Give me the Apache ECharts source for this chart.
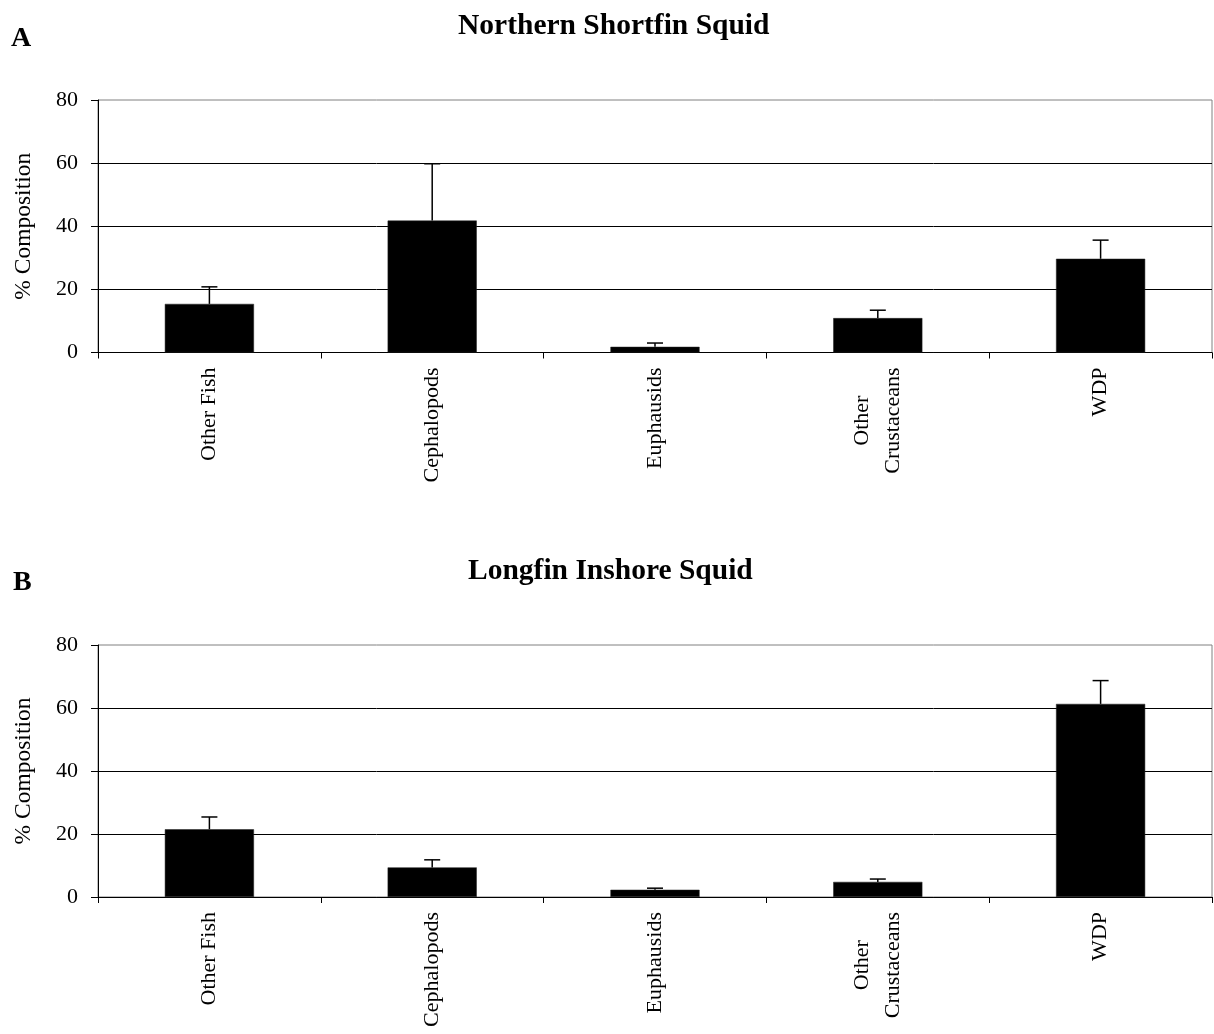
<!DOCTYPE html>
<html>
<head>
<meta charset="utf-8">
<title>Diet composition of squid</title>
<script src="https://cdn.jsdelivr.net/npm/echarts@6/dist/echarts.min.js"></script>
<style>
  html, body { margin: 0; padding: 0; background: #fff; }
  #chart { width: 1214px; height: 1034px; }
</style>
</head>
<body>
<div id="chart"></div>
<script>
// Prey categories shared by both panels
const categories = ['Other Fish', 'Cephalopods', 'Euphausids', 'Other\nCrustaceans', 'WDP'];

// Panel A: Northern Shortfin Squid — mean % composition and standard error
const shortfinMeans = [15.4, 41.8, 1.8, 10.9, 29.7];
const shortfinErrors = [5.4, 18.0, 1.2, 2.5, 5.9];

// Panel B: Longfin Inshore Squid — mean % composition and standard error
const longfinMeans = [21.5, 9.4, 2.3, 4.8, 61.3];
const longfinErrors = [3.9, 2.4, 0.5, 0.9, 7.4];

// Value axis ticks
const yMin = 0, yMax = 80, yStep = 20;

const FONT = '"Liberation Serif", "Times New Roman", serif';

const chart = echarts.init(document.getElementById('chart'), null, { renderer: 'canvas' });

function xAxisFor(gridIndex) {
  return {
    type: 'category',
    gridIndex,
    data: categories,
    axisLine: { show: true, lineStyle: { color: '#000', width: 1 } },
    axisTick: { show: true, length: 6, lineStyle: { color: '#000', width: 1 } },
    axisLabel: {
      rotate: 90,
      margin: 15,
      interval: 0,
      color: '#000',
      fontFamily: FONT,
      fontSize: 22,
      // each line of a wrapped label is centred on the others
      formatter: (v) => v.split('\n').map(s => '{c|' + s + '}').join('\n'),
      rich: {
        c: { align: 'center', fontFamily: FONT, fontSize: 22, color: '#000', lineHeight: 31 }
      }
    },
    splitLine: { show: false }
  };
}

function yAxisFor(gridIndex) {
  return {
    type: 'value',
    gridIndex,
    min: yMin,
    max: yMax,
    interval: yStep,
    name: '% Composition',
    nameLocation: 'middle',
    nameGap: 62,
    nameRotate: 90,
    nameTextStyle: { color: '#000', fontFamily: FONT, fontSize: 23.5 },
    axisLine: { show: true, lineStyle: { color: '#000', width: 1 } },
    axisTick: { show: true, length: 7, lineStyle: { color: '#000', width: 1 } },
    axisLabel: { color: '#000', fontFamily: FONT, fontSize: 22, margin: 20 },
    splitLine: {
      show: true,
      showMaxLine: false,
      lineStyle: { color: '#000', width: 1 }
    }
  };
}

function barSeries(axisIndex, values) {
  return {
    type: 'bar',
    xAxisIndex: axisIndex,
    yAxisIndex: axisIndex,
    data: values,
    barWidth: '40%',
    itemStyle: { color: '#000', borderColor: '#222', borderWidth: 0.5 },
    z: 2,
    silent: true
  };
}

// Upper-only error bar with a short horizontal cap
function errorSeries(axisIndex, values, errors) {
  return {
    type: 'custom',
    xAxisIndex: axisIndex,
    yAxisIndex: axisIndex,
    data: values.map((v, i) => [i, v, errors[i]]),
    z: 3,
    silent: true,
    renderItem(params, api) {
      const idx = api.value(0);
      const v = api.value(1);
      const e = api.value(2);
      const base = api.coord([idx, v]);
      const top = api.coord([idx, v + e]);
      const half = 8;
      const style = { stroke: '#000', lineWidth: 1.5 };
      return {
        type: 'group',
        children: [
          { type: 'line', shape: { x1: base[0], y1: base[1], x2: top[0], y2: top[1] }, style },
          { type: 'line', shape: { x1: top[0] - half, y1: top[1], x2: top[0] + half, y2: top[1] }, style }
        ]
      };
    }
  };
}

const titleStyle = { color: '#000', fontFamily: FONT, fontSize: 29.5, fontWeight: 'bold' };
const panelLetterStyle = { color: '#000', fontFamily: FONT, fontSize: 28, fontWeight: 'bold' };

chart.setOption({
  animation: false,
  backgroundColor: '#fff',
  title: [
    { text: 'Northern Shortfin Squid', left: 453, top: 6, textStyle: titleStyle },
    { text: 'A', left: 6, top: 20, textStyle: panelLetterStyle },
    { text: 'Longfin Inshore Squid', left: 463, top: 551, textStyle: titleStyle },
    { text: 'B', left: 8, top: 564, textStyle: panelLetterStyle }
  ],
  grid: [
    { left: 98, right: 2, top: 100, height: 252.5, show: true, borderColor: '#808080', borderWidth: 1, backgroundColor: 'transparent' },
    { left: 98, right: 2, top: 645, height: 252, show: true, borderColor: '#808080', borderWidth: 1, backgroundColor: 'transparent' }
  ],
  xAxis: [xAxisFor(0), xAxisFor(1)],
  yAxis: [yAxisFor(0), yAxisFor(1)],
  series: [
    barSeries(0, shortfinMeans),
    errorSeries(0, shortfinMeans, shortfinErrors),
    barSeries(1, longfinMeans),
    errorSeries(1, longfinMeans, longfinErrors)
  ]
});
</script>
</body>
</html>
